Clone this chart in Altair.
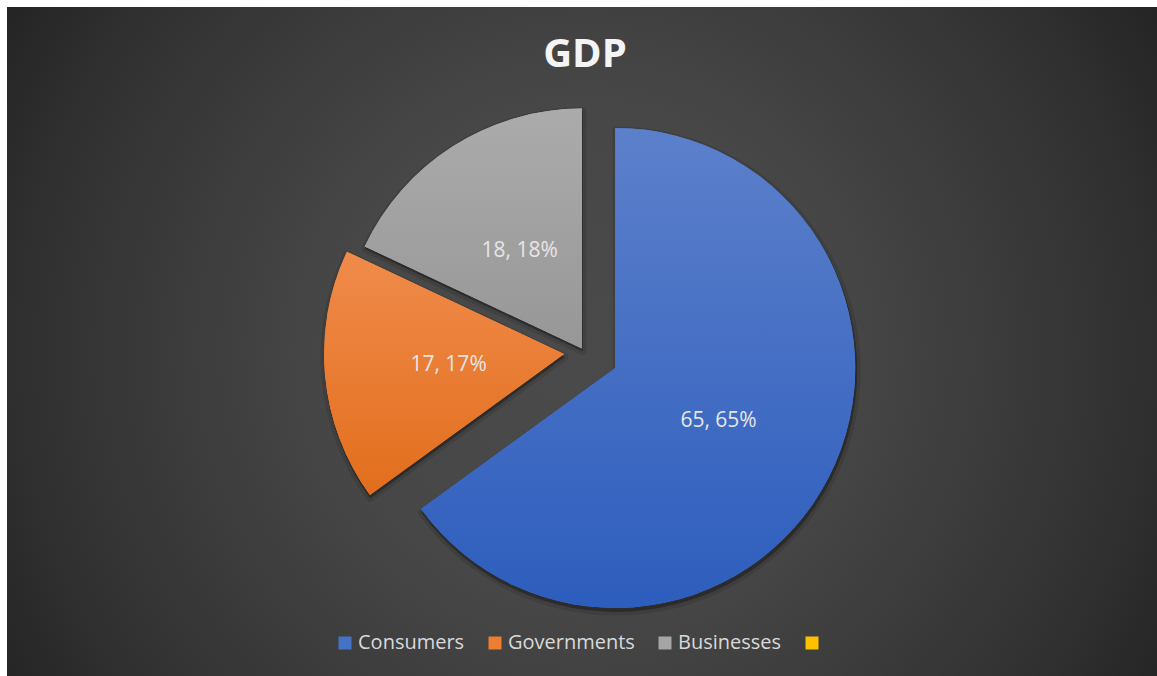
import altair as alt
import pandas as pd

# ---- data ----
categories = ["Consumers", "Governments", "Businesses", ""]
values = [65, 17, 18, 0]
colors = ["#4472C4", "#ED7D31", "#A5A5A5", "#FFC000"]
explode = [35, 20, 4, 0]          # per-slice point explosion (px)
title_text = ["GDP"]

# per-slice vertical fill gradients (top, bottom)
slice_gradients = {
    "Consumers": ("#5c80cb", "#2d5dbd"),
    "Governments": ("#f08b4b", "#e26e1c"),
    "Businesses": ("#ababab", "#979797"),
}

df = pd.DataFrame({
    "category": categories,
    "value": values,
    "explode": explode,
    "order": list(range(len(categories))),
})

# ---- layout constants (page coordinates) ----
W, H = 1157, 676
EDGE = 7               # white strip at top / left
CX, CY = 584, 352      # pie centre
R = 240                # pie radius
LABEL_R = 116          # label distance from slice apex

slices = (
    alt.Chart(df)
    .transform_joinaggregate(total="sum(value)")
    .transform_window(cum="sum(value)", sort=[alt.SortField("order")], frame=[None, 0])
    .transform_calculate(
        a1="2*PI*datum.cum/datum.total",
        a0="2*PI*(datum.cum-datum.value)/datum.total",
    )
    .transform_calculate(mid="(datum.a0+datum.a1)/2")
    .transform_calculate(
        cx=f"{CX}+datum.explode*sin(datum.mid)",
        cy=f"{CY}-datum.explode*cos(datum.mid)",
        pct="round(100*datum.value/datum.total)",
    )
    .transform_calculate(
        lx=f"datum.cx+{LABEL_R}*sin(datum.mid)",
        ly=f"datum.cy-{LABEL_R}*cos(datum.mid)",
        label="datum.value + ', ' + datum.pct + '%'",
    )
    .transform_filter("datum.value > 0")
)

geo = dict(
    theta=alt.Theta("a0:Q", scale=None),
    theta2=alt.Theta2("a1:Q"),
    x=alt.X("cx:Q", scale=None, axis=None),
    y=alt.Y("cy:Q", scale=None, axis=None),
)

shadow = slices.mark_arc(
    outerRadius=R + 1, fill="#000000", fillOpacity=0.3, stroke="#000000",
    strokeOpacity=0.1, strokeWidth=7, strokeJoin="round", xOffset=1, yOffset=3,
).encode(**geo)

pie = slices.mark_arc(outerRadius=R, strokeWidth=0).encode(
    **geo,
    color=alt.Color(
        "category:N",
        scale=alt.Scale(domain=categories, range=colors),
        legend=alt.Legend(
            orient="none", legendX=335, legendY=633, direction="horizontal",
            title=None, symbolType="square", symbolSize=169, symbolStrokeWidth=0,
            labelFont="Open Sans", labelFontSize=20, labelColor="#d9d9d9",
            labelOffset=3, columnPadding=20, padding=0, labelLimit=400,
        ),
    ),
)

shades = []
for cat, (top, bottom) in slice_gradients.items():
    shades.append(
        slices.transform_filter(alt.datum.category == cat).mark_arc(
            outerRadius=R, strokeWidth=0,
            fill=alt.LinearGradient(
                gradient="linear",
                stops=[alt.GradientStop(offset=0, color=top),
                       alt.GradientStop(offset=1, color=bottom)],
                x1=0, y1=0, x2=0, y2=1,
            ),
        ).encode(**geo)
    )

labels = slices.mark_text(
    font="Open Sans", fontSize=21, color="#e6e6e6", align="center", baseline="middle",
).encode(
    x=alt.X("lx:Q", scale=None, axis=None),
    y=alt.Y("ly:Q", scale=None, axis=None),
    text="label:N",
)

SQ = 1200
bg = alt.Chart(pd.DataFrame({"bg": [0]})).mark_rect(
    clip=True,
    fill=alt.RadialGradient(
        gradient="radial",
        stops=[
            alt.GradientStop(offset=0.0, color="#4a4a4a"),
            alt.GradientStop(offset=0.35, color="#474747"),
            alt.GradientStop(offset=0.56, color="#3c3c3c"),
            alt.GradientStop(offset=0.76, color="#313131"),
            alt.GradientStop(offset=0.96, color="#222222"),
        ],
        x1=(CX - EDGE) / SQ, y1=(CY - EDGE) / SQ, r1=0,
        x2=(CX - EDGE) / SQ, y2=(CY - EDGE) / SQ, r2=0.6,
    ),
).encode(
    x=alt.value(EDGE), x2=alt.value(EDGE + SQ),
    y=alt.value(EDGE), y2=alt.value(EDGE + SQ),
)

# white strips along the top and left edges of the picture
strip_top = alt.Chart(pd.DataFrame({"s": [0]})).mark_rect(fill="white").encode(
    x=alt.value(0), x2=alt.value(W), y=alt.value(0), y2=alt.value(EDGE))
strip_left = alt.Chart(pd.DataFrame({"s": [0]})).mark_rect(fill="white").encode(
    x=alt.value(0), x2=alt.value(EDGE), y=alt.value(0), y2=alt.value(H))

title = alt.Chart(pd.DataFrame({"t": title_text})).mark_text(
    font="Open Sans", fontSize=40, fontWeight="bold", color="#f4f4f4",
    align="center", baseline="alphabetic",
).encode(text="t:N", x=alt.value(585), y=alt.value(67))

chart = (
    alt.layer(bg, strip_top, strip_left, shadow, pie, *shades, labels, title)
    .properties(
        width=W, height=H,
        autosize=alt.AutoSizeParams(type="none"),
        padding=0,
        background="#222222",
    )
    .configure_view(strokeWidth=0)
)

chart.save("out.html", embed_options={"renderer": "svg", "actions": False})
